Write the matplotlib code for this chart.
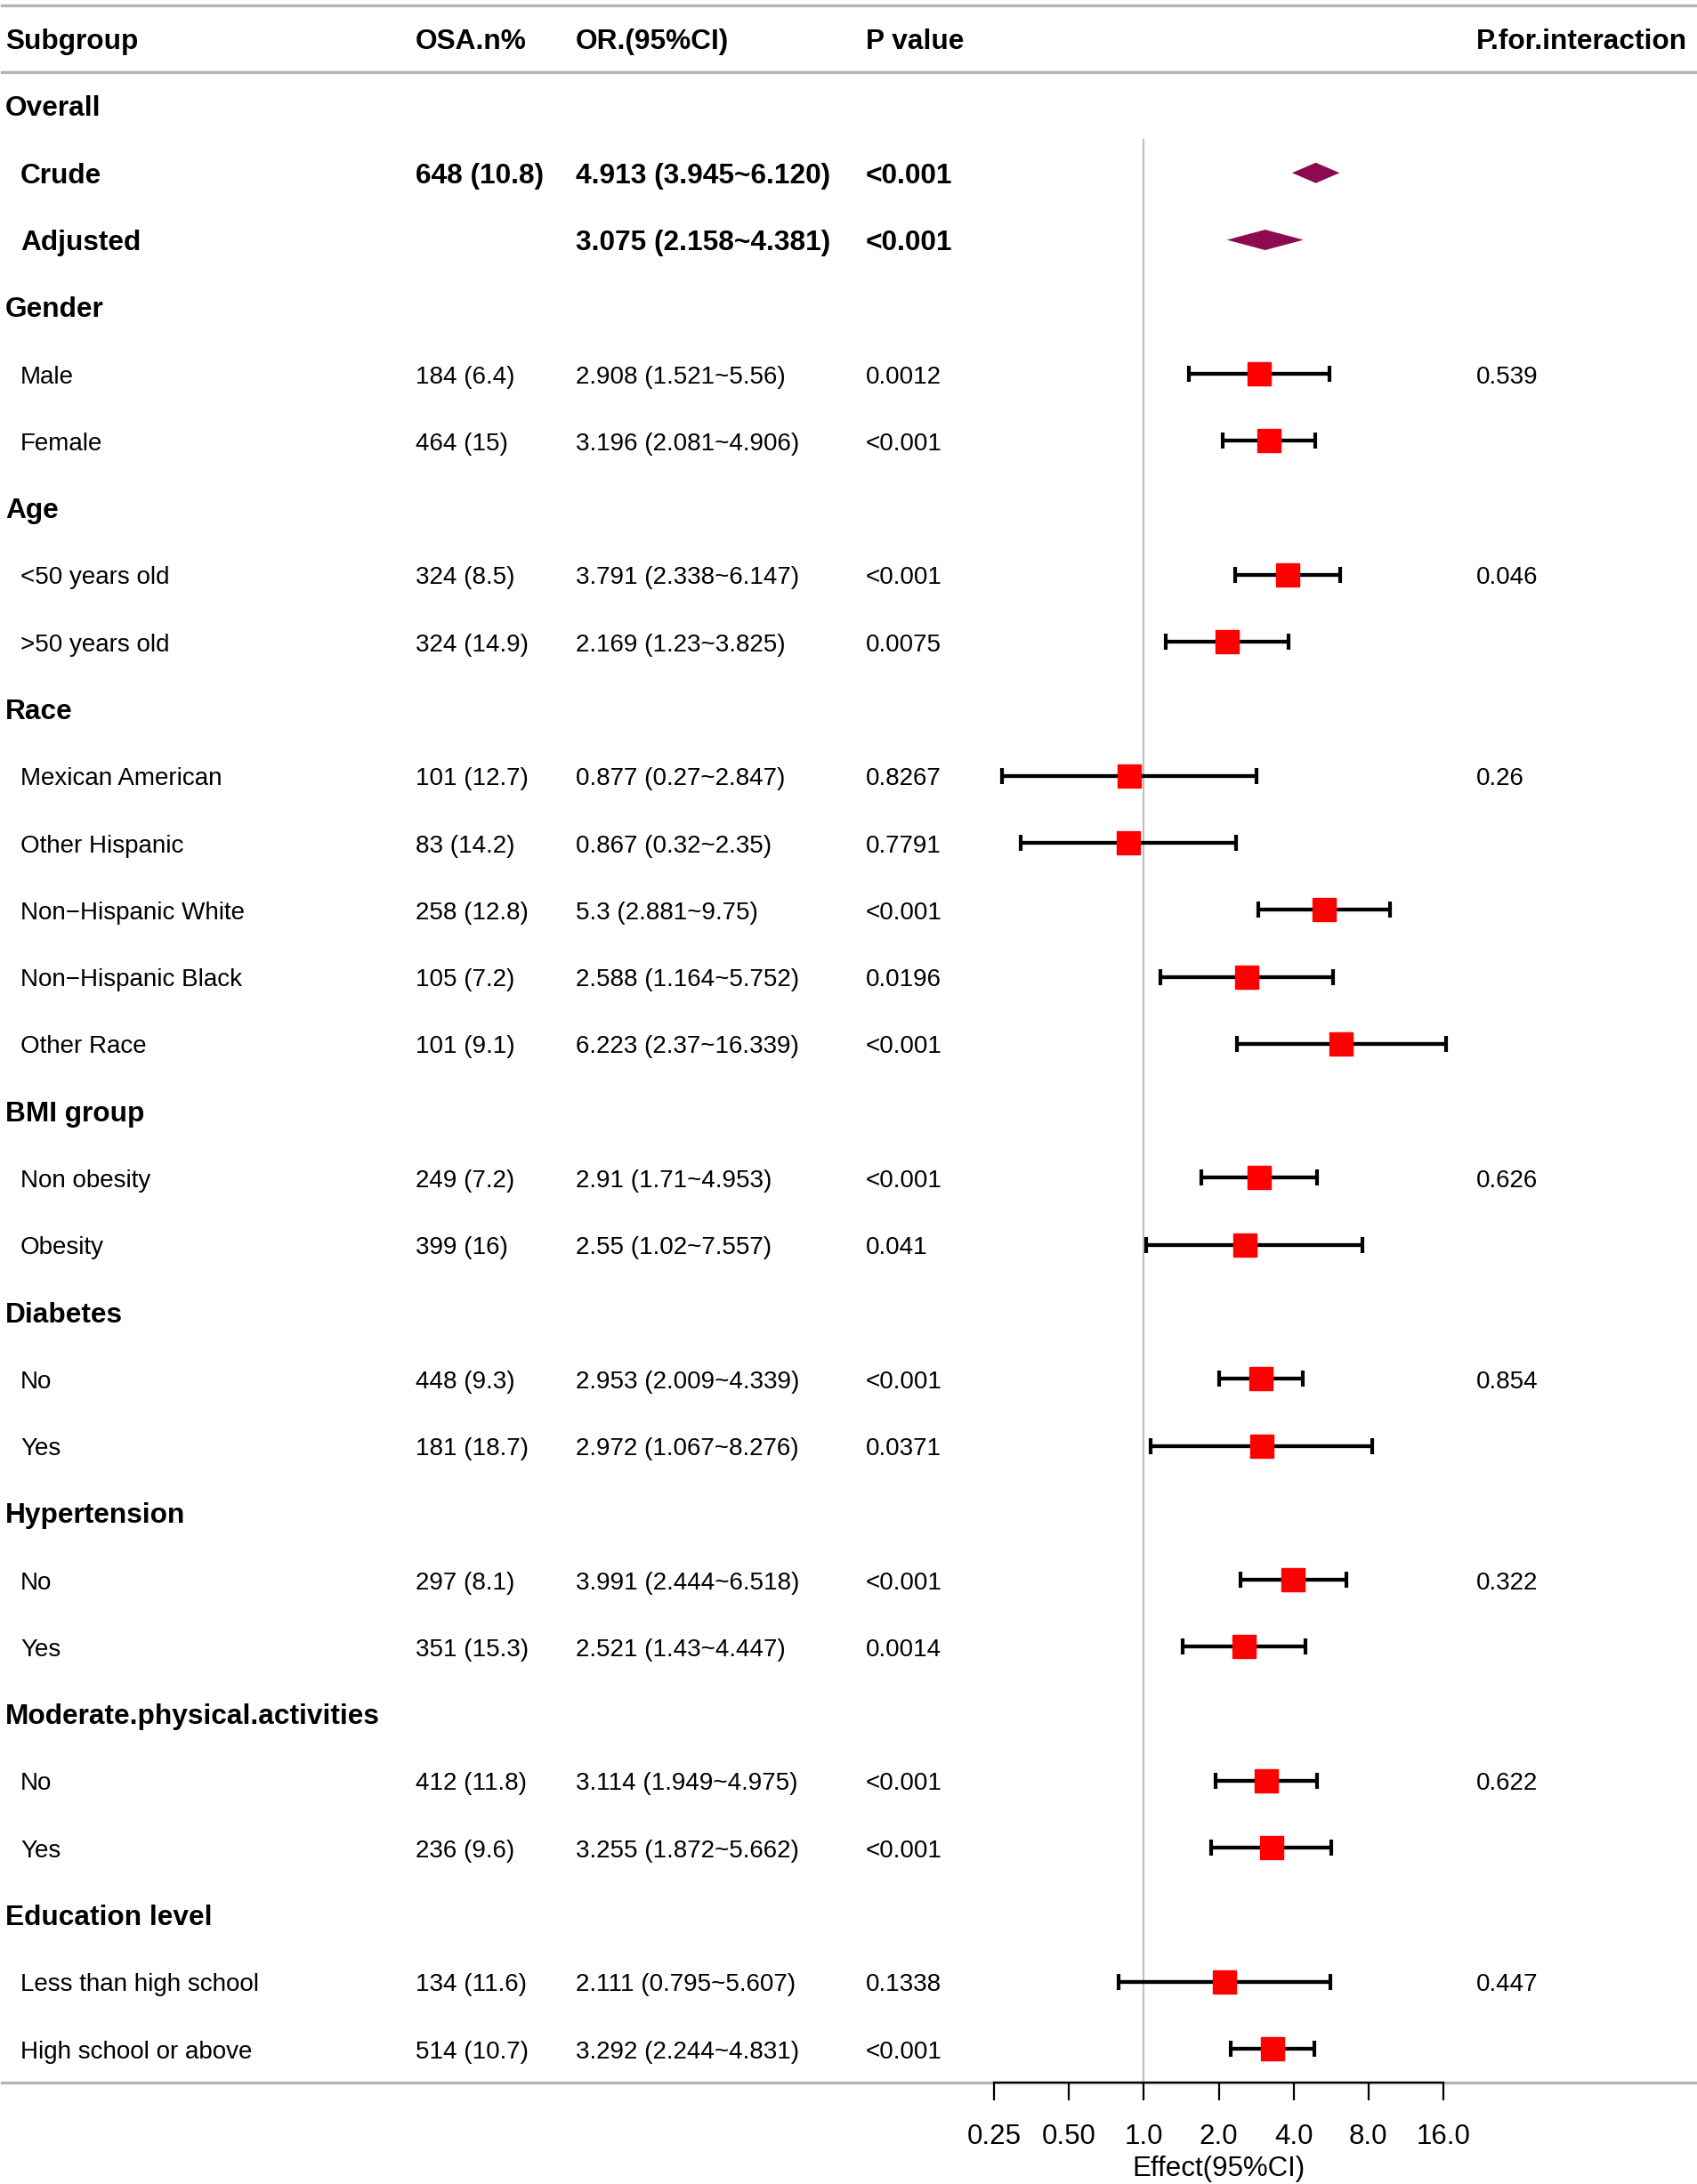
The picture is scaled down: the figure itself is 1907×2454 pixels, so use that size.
import numpy as np
import matplotlib
matplotlib.use('Agg')
import matplotlib.pyplot as plt

plt.rcParams['font.family'] = ['Liberation Sans', 'DejaVu Sans']

# ---- table content ----
labels = ['Overall', 'Crude', 'Adjusted',
          'Gender', 'Male', 'Female',
          'Age', '<50 years old', '>50 years old',
          'Race', 'Mexican American', 'Other Hispanic', 'Non\u2212Hispanic White',
          'Non\u2212Hispanic Black', 'Other Race',
          'BMI group', 'Non obesity', 'Obesity',
          'Diabetes', 'No', 'Yes',
          'Hypertension', 'No', 'Yes',
          'Moderate.physical.activities', 'No', 'Yes',
          'Education level', 'Less than high school', 'High school or above']
# 'g' = group header, 'o' = overall estimate (bold, diamond), 's' = subgroup row
kinds = ['g', 'o', 'o',
         'g', 's', 's',
         'g', 's', 's',
         'g', 's', 's', 's', 's', 's',
         'g', 's', 's',
         'g', 's', 's',
         'g', 's', 's',
         'g', 's', 's',
         'g', 's', 's']
osa_n = ['', '648 (10.8)', '',
         '', '184 (6.4)', '464 (15)',
         '', '324 (8.5)', '324 (14.9)',
         '', '101 (12.7)', '83 (14.2)', '258 (12.8)', '105 (7.2)', '101 (9.1)',
         '', '249 (7.2)', '399 (16)',
         '', '448 (9.3)', '181 (18.7)',
         '', '297 (8.1)', '351 (15.3)',
         '', '412 (11.8)', '236 (9.6)',
         '', '134 (11.6)', '514 (10.7)']
or_ci = ['', '4.913 (3.945~6.120)', '3.075 (2.158~4.381)',
         '', '2.908 (1.521~5.56)', '3.196 (2.081~4.906)',
         '', '3.791 (2.338~6.147)', '2.169 (1.23~3.825)',
         '', '0.877 (0.27~2.847)', '0.867 (0.32~2.35)', '5.3 (2.881~9.75)',
         '2.588 (1.164~5.752)', '6.223 (2.37~16.339)',
         '', '2.91 (1.71~4.953)', '2.55 (1.02~7.557)',
         '', '2.953 (2.009~4.339)', '2.972 (1.067~8.276)',
         '', '3.991 (2.444~6.518)', '2.521 (1.43~4.447)',
         '', '3.114 (1.949~4.975)', '3.255 (1.872~5.662)',
         '', '2.111 (0.795~5.607)', '3.292 (2.244~4.831)']
p_val = ['', '<0.001', '<0.001',
         '', '0.0012', '<0.001',
         '', '<0.001', '0.0075',
         '', '0.8267', '0.7791', '<0.001', '0.0196', '<0.001',
         '', '<0.001', '0.041',
         '', '<0.001', '0.0371',
         '', '<0.001', '0.0014',
         '', '<0.001', '<0.001',
         '', '0.1338', '<0.001']
p_int = ['', '', '',
         '', '0.539', '',
         '', '0.046', '',
         '', '0.26', '', '', '', '',
         '', '0.626', '',
         '', '0.854', '',
         '', '0.322', '',
         '', '0.622', '',
         '', '0.447', '']

nan = np.nan
est = np.array([nan, 4.913, 3.075,
                nan, 2.908, 3.196,
                nan, 3.791, 2.169,
                nan, 0.877, 0.867, 5.3, 2.588, 6.223,
                nan, 2.91, 2.55,
                nan, 2.953, 2.972,
                nan, 3.991, 2.521,
                nan, 3.114, 3.255,
                nan, 2.111, 3.292])
lo = np.array([nan, 3.945, 2.158,
               nan, 1.521, 2.081,
               nan, 2.338, 1.23,
               nan, 0.27, 0.32, 2.881, 1.164, 2.37,
               nan, 1.71, 1.02,
               nan, 2.009, 1.067,
               nan, 2.444, 1.43,
               nan, 1.949, 1.872,
               nan, 0.795, 2.244])
hi = np.array([nan, 6.120, 4.381,
               nan, 5.56, 4.906,
               nan, 6.147, 3.825,
               nan, 2.847, 2.35, 9.75, 5.752, 16.339,
               nan, 4.953, 7.557,
               nan, 4.339, 8.276,
               nan, 6.518, 4.447,
               nan, 4.975, 5.662,
               nan, 5.607, 4.831])

headers = ['Subgroup', 'OSA.n%', 'OR.(95%CI)', 'P value', 'P.for.interaction']
xticks = [0.25, 0.5, 1, 2, 4, 8, 16]
xticklabels = ['0.25', '0.50', '1.0', '2.0', '4.0', '8.0', '16.0']

# ---- layout (pixels) ----
W, H = 1907, 2454
step = 75.28
y0 = 43.7
n = len(labels)
row_y = y0 + step * np.arange(1, n + 1)
top_line = y0 - step / 2
head_line = y0 + step / 2
bot_line = row_y[-1] + step / 2
col_x = [6, 467, 647, 973, 1659]
sub_x = 23
dy = 3.5  # text centre nudge
fs_reg, fs_bold = 20, 22.8
gray = '#B4B4B4'

fig = plt.figure(figsize=(W / 100, H / 100), dpi=100)
ax = fig.add_axes([0, 0, 1, 1])
ax.set_xlim(0, W)
ax.set_ylim(H, 0)
ax.axis('off')

for yy in (top_line, head_line, bot_line):
    ax.axhline(yy, xmin=2 / W, xmax=1 - 2 / W, color=gray, lw=2.4)

for x, h in zip(col_x, headers):
    ax.text(x, y0 + dy, h, fontsize=fs_bold, fontweight='bold', va='center', ha='left')

for i in range(n):
    y = row_y[i] + dy
    k = kinds[i]
    if k == 'g':
        ax.text(col_x[0], y, labels[i], fontsize=fs_bold, fontweight='bold', va='center')
        continue
    bold = (k == 'o')
    fs = fs_bold if bold else fs_reg
    fw = 'bold' if bold else 'normal'
    ax.text(sub_x, y, labels[i], fontsize=fs, fontweight=fw, va='center')
    ax.text(col_x[1], y, osa_n[i], fontsize=fs, fontweight=fw, va='center')
    ax.text(col_x[2], y, or_ci[i], fontsize=fs, fontweight=fw, va='center')
    ax.text(col_x[3], y, p_val[i], fontsize=fs, fontweight=fw, va='center')
    ax.text(col_x[4], y, p_int[i], fontsize=fs, fontweight=fw, va='center')

# ---- forest panel ----
fx0, fx1 = 1117, 1622
fa = fig.add_axes([fx0 / W, (H - bot_line) / H, (fx1 - fx0) / W, (bot_line - head_line) / H])
fa.set_facecolor('none')
fa.set_xscale('log', base=2)
fa.set_xlim(0.25, 16)
fa.set_ylim(bot_line, head_line)

fa.plot([1, 1], [row_y[0] + step / 2, bot_line], color='#BEBEBE', lw=1.5, zorder=1)

for i in range(n):
    if np.isnan(est[i]):
        continue
    y = row_y[i]
    if kinds[i] == 'o':
        fa.fill([lo[i], est[i], hi[i], est[i]], [y, y - 11.5, y, y + 11.5],
                color='#8B0A50', lw=0, zorder=3, clip_on=False)
    else:
        fa.errorbar(est[i], y, xerr=[[est[i] - lo[i]], [hi[i] - est[i]]], fmt='none',
                    ecolor='black', elinewidth=3.1, capsize=6.6, capthick=3.0,
                    zorder=2, clip_on=False)
        fa.plot(est[i], y, 's', ms=18.5, color='#FF0000', mec='#FF0000', zorder=3, clip_on=False)

for s in ('top', 'left', 'right'):
    fa.spines[s].set_visible(False)
fa.spines['bottom'].set_bounds(0.25, 16)
fa.spines['bottom'].set_linewidth(1.6)
fa.set_yticks([])
fa.set_xticks(xticks)
fa.set_xticklabels(xticklabels)
fa.minorticks_off()
fa.tick_params(axis='x', direction='out', length=14.4, width=1.6, pad=19, labelsize=22.5)
fa.set_xlabel('Effect(95%CI)', fontsize=22.5, labelpad=4)

fig.savefig('out.png', dpi=100)
